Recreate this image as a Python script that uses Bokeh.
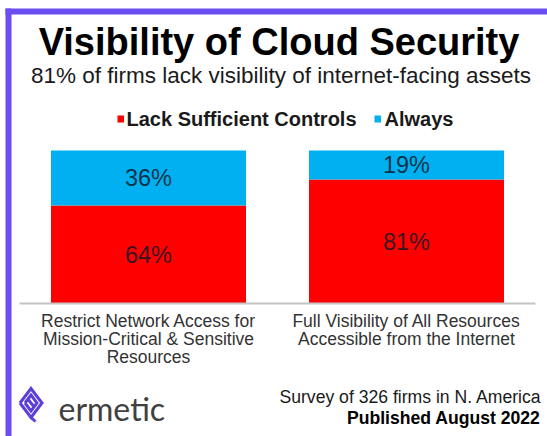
from bokeh.plotting import figure
from bokeh.models import Range1d, FactorRange, Label, ColumnDataSource, BoxAnnotation
from bokeh.transform import dodge
from bokeh.core.properties import value
from bokeh.embed import file_html
from bokeh.resources import INLINE

# ---------------- data ----------------
categories = [
    "Restrict Network Access for\nMission-Critical & Sensitive\nResources",
    "Full Visibility of All Resources\nAccessible from the Internet",
]
lack_controls = [64, 81]
always = [36, 19]
series_names = ["Lack Sufficient Controls", "Always"]
series_colors = ["#FF0000", "#00B0F0"]
title_text = "Visibility of Cloud Security"
subtitle_text = "81% of firms lack visibility of internet-facing assets"
footer_lines = ["Survey of 326 firms in N. America", "Published August 2022"]
brand_name = "ermetic"

# ---------------- layout helpers ----------------
W, H = 547, 436
BAND_PX = 258.0            # width of one category band in px
PX_PER_PCT = 1.53          # vertical px per percentage point
REF_BASE = 303.0           # baseline row (px from top)
PAD = 15.5 / BAND_PX
OFF = 3.5 / BAND_PX
FONT = "Liberation Sans"
PURPLE = "#6C4DF4"


def sx(rx):
    return rx


def sy(ry):
    return H - ry


def ydata(ry):
    return (REF_BASE - ry) / PX_PER_PCT


def xsyn(rx):
    return (rx - 15.5) / BAND_PX


p = figure(
    width=W, height=H,
    x_range=FactorRange(factors=categories, range_padding=PAD, range_padding_units="absolute"),
    y_range=Range1d(ydata(H), ydata(0)),
    x_axis_location=None, y_axis_location=None,
    toolbar_location=None, output_backend="svg",
    min_border=0,
    border_fill_color="white", background_fill_color="white",
    outline_line_color=None,
)
p.grid.grid_line_color = None

# purple frame border (left and top)
for l, r, t, b in [(5, 11, 8, H), (5, W, 8, 14)]:
    p.add_layout(BoxAnnotation(left=sx(l), right=sx(r), top=sy(t), bottom=sy(b),
                               left_units="screen", right_units="screen",
                               top_units="screen", bottom_units="screen",
                               fill_color=PURPLE, fill_alpha=1, line_color=None))

src = ColumnDataSource(dict(cat=categories, lack=lack_controls, always=always))
rs = p.vbar_stack(["lack", "always"], x=dodge("cat", OFF, range=p.x_range),
                  width=195 / BAND_PX, color=series_colors, line_color=None, source=src)

# baseline
p.segment(x0=[OFF], x1=[len(categories) + OFF], y0=[0], y1=[0],
          line_color="#C4C4C4", line_width=2)

# value labels
vx, vy, vt = [], [], []
for c, a, b in zip(categories, lack_controls, always):
    vx += [c, c]
    vy += [a / 2, a + b / 2]
    vt += [f"{a}%", f"{b}%"]
p.text(x=dodge("x", OFF, range=p.x_range), y="y", text="t",
       source=ColumnDataSource(dict(x=vx, y=vy, t=vt)),
       text_align="center", text_baseline="middle",
       text_font=value(FONT), text_font_size="23.5px",
       text_color="#101828", text_alpha=0.85)

# category labels
CAT_SIZE = 17.5
lx, ly, lt = [], [], []
for c in categories:
    for i, line in enumerate(c.split("\n")):
        lx.append(c)
        ly.append(ydata(326.7 + 18 * i - 0.35 * CAT_SIZE))
        lt.append(line)
p.text(x=dodge("x", OFF, range=p.x_range), y="y", text="t",
       source=ColumnDataSource(dict(x=lx, y=ly, t=lt)),
       text_align="center", text_baseline="middle",
       text_font=value(FONT), text_font_size=f"{CAT_SIZE}px", text_color="#333333")


def lab(text, rx, ry, size, align="left", bold=False, color="#000000", font=FONT, k=0.35):
    # ry is the alphabetic baseline; place by the em middle
    p.add_layout(Label(x=sx(rx), y=sy(ry - k * size), x_units="screen", y_units="screen",
                       text=text, text_align=align, text_baseline="middle",
                       text_font=font, text_font_size=f"{size}px",
                       text_font_style="bold" if bold else "normal",
                       text_color=color))


lab(title_text, 278.5, 55, 38, align="center", bold=True)
lab(subtitle_text, 280.5, 83.3, 22.5, align="center", color="#1a1a1a")

# legend (manual)
leg_sq_x = [117, 374]
leg_tx = [126, 384]
for name, col, qx, tx in zip(series_names, series_colors, leg_sq_x, leg_tx):
    p.add_layout(BoxAnnotation(left=sx(qx), right=sx(qx + 6.5), top=sy(115), bottom=sy(122),
                               left_units="screen", right_units="screen",
                               top_units="screen", bottom_units="screen",
                               fill_color=col, fill_alpha=1, line_color=None))
    lab(name, tx, 125, 20, bold=True, color="#1a1a1a")

# footer
lab(footer_lines[0], 541, 402.7, 17.6, align="right", color="#1a1a1a")
lab(footer_lines[1], 540, 423.7, 17.6, align="right", bold=True)
lab(brand_name, 58, 420, 32, color="#404040", font="Lato", k=0.38)

# brand mark (nested diamonds with tail)
def diamond(cx, cy, hw, hh):
    return ([xsyn(cx - hw), xsyn(cx), xsyn(cx + hw), xsyn(cx), xsyn(cx - hw)],
            [ydata(cy), ydata(cy - hh), ydata(cy), ydata(cy + hh), ydata(cy)])

mx, my = [], []
for hw, hh in [(11, 14.5), (6, 8)]:
    a, b = diamond(30.5, 402.5, hw, hh)
    mx.append(a)
    my.append(b)
mx.append([xsyn(27), xsyn(34)])
my.append([ydata(398), ydata(407)])
mx.append([xsyn(30.5), xsyn(35)])
my.append([ydata(417), ydata(421)])
p.multi_line(xs=mx, ys=my, line_color="#5B3FD8", line_width=3, line_join="miter")

open("out.html", "w").write(file_html(p, INLINE))
